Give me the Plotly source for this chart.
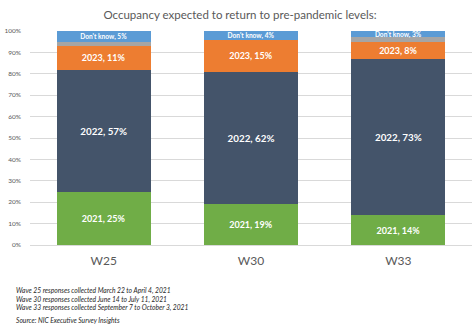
import plotly.graph_objects as go

# Survey waves and answer shares (percent of respondents)
waves = ["W25", "W30", "W33"]
series_names = ["2021", "2022", "2023", "Other", "Don't know"]
share_2021 = [25, 19, 14]
share_2022 = [57, 62, 73]
share_2023 = [11, 15, 8]
share_other = [2, 0, 2]
share_dont_know = [5, 4, 3]
y_ticks = [0, 10, 20, 30, 40, 50, 60, 70, 80, 90, 100]
y_tick_labels = [f"{v}%" for v in y_ticks]
footnotes = [
    "Wave 25 responses collected March 22 to April 4, 2021",
    "Wave 30 responses collected June 14 to July 11, 2021",
    "Wave 33 responses collected September 7 to October 3, 2021",
]
source_note = "Source: NIC Executive Survey Insights"
title_text = "Occupancy expected to return to pre-pandemic levels:"

colors = ["#70AD47", "#44546A", "#ED7D31", "#A5A5A5", "#5B9BD5"]
values = [share_2021, share_2022, share_2023, share_other, share_dont_know]
label_sizes = [9, 9.8, 9, 0, 6.6]

W, H = 476, 331
ml, mr, mt, mb = 27, 4, 31, 86
FONT = "Lato, Open Sans, sans-serif"

fig = go.Figure()
for name, vals, col, fs in zip(series_names, values, colors, label_sizes):
    show = fs > 0
    fig.add_trace(go.Bar(
        x=waves,
        y=vals,
        name=name,
        marker=dict(color=col, line=dict(width=0)),
        text=[f"{name}, {v}%" if (show and v > 0) else "" for v in vals],
        textposition="inside",
        insidetextanchor="middle",
        constraintext="none",
        textangle=0,
        textfont=dict(family=FONT, size=fs if show else 8, color="white", weight="bold"),
        hoverinfo="skip",
    ))

fig.update_layout(
    barmode="stack",
    bargap=0.36,
    width=W,
    height=H,
    margin=dict(l=ml, r=mr, t=mt, b=mb),
    paper_bgcolor="white",
    plot_bgcolor="white",
    showlegend=False,
    font=dict(family=FONT, color="#595959"),
    title=dict(
        text=title_text,
        x=240 / W,
        xanchor="center",
        y=1 - 15 / H,
        yanchor="middle",
        font=dict(family=FONT, size=11.5, color="#595959"),
    ),
    xaxis=dict(
        showgrid=False,
        showline=False,
        ticks="",
        tickfont=dict(family=FONT, size=12, color="#595959"),
        ticklabelstandoff=7,
    ),
    yaxis=dict(
        range=[0, 100],
        tickmode="array",
        tickvals=y_ticks,
        ticktext=y_tick_labels,
        showgrid=True,
        gridcolor="#D9D9D9",
        gridwidth=1,
        zeroline=True,
        zerolinecolor="#D9D9D9",
        zerolinewidth=1,
        showline=False,
        ticks="",
        tickfont=dict(family=FONT, size=6.5, color="#595959"),
        ticklabelstandoff=8,
    ),
)

# Footnotes below the chart, positioned in pixel terms
pw = W - ml - mr
ph = H - mt - mb
def px_x(x):
    return (x - ml) / pw
def px_y(y):
    return (H - mb - y) / ph

fig.add_annotation(
    text="<br>".join(f"<i>{t}</i>" for t in footnotes),
    xref="paper", yref="paper",
    x=px_x(11), y=px_y(299), xanchor="left", yanchor="middle", align="left",
    showarrow=False, font=dict(family=FONT, size=6.7, color="#262626"),
)
fig.add_annotation(
    text=f"<i>{source_note}</i>", xref="paper", yref="paper",
    x=px_x(11), y=px_y(320), xanchor="left", yanchor="middle",
    showarrow=False, font=dict(family=FONT, size=6.7, color="#262626"),
)

fig.write_html("out.html")
